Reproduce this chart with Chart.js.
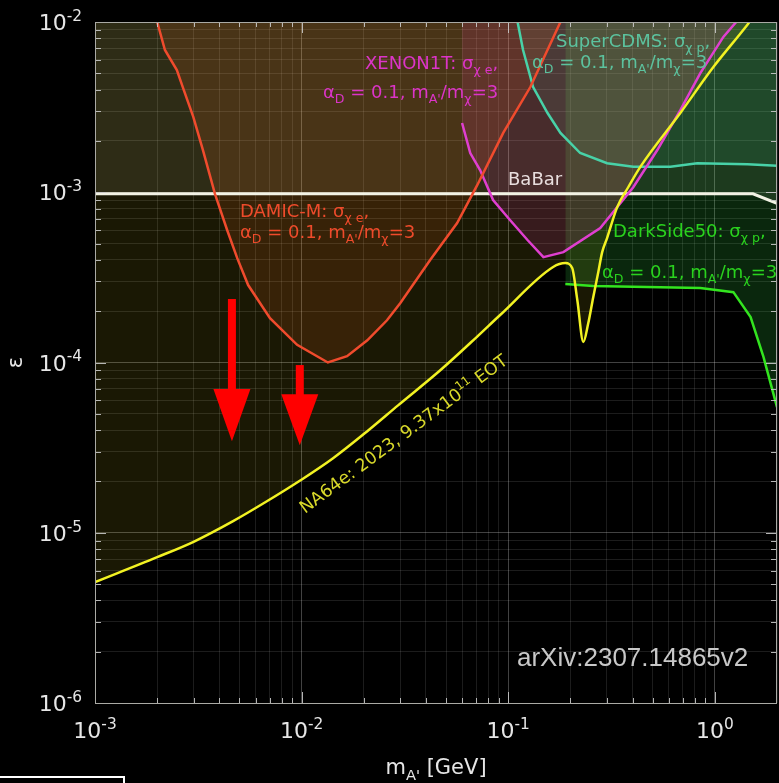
<!DOCTYPE html>
<html><head><meta charset="utf-8">
<script src="https://cdn.jsdelivr.net/npm/chart.js@4"></script>
<style>html,body{margin:0;padding:0;background:#000;}canvas{display:block;}</style>
</head><body>
<canvas id="c" width="779" height="783"></canvas>
<script>
// ---------- data ----------
const xMajorTicks = [1e-3, 1e-2, 1e-1, 1];
const xMajorExp = ['-3', '-2', '-1', '0'];
const yMajorTicks = [1e-6, 1e-5, 1e-4, 1e-3, 1e-2];
const yMajorExp = ['-6', '-5', '-4', '-3', '-2'];
const xRange = [1e-3, 2];
const yRange = [1e-6, 1e-2];

const na64X = [0.001, 0.0020, 0.0030, 0.00466, 0.00673, 0.0098, 0.0142, 0.0208, 0.0293, 0.0469, 0.0708, 0.0914, 0.165, 0.189, 0.204, 0.216, 0.231, 0.244, 0.258, 0.273, 0.285, 0.301, 0.337, 0.381, 0.436, 0.681, 0.984, 1.41, 1.47];
const na64Y = [5.13e-6, 7.19e-6, 8.85e-6, 1.17e-5, 1.52e-5, 2.02e-5, 2.74e-5, 3.95e-5, 5.6e-5, 9.0e-5, 1.42e-4, 1.9e-4, 3.64e-4, 3.84e-4, 3.59e-4, 2.33e-4, 1.32e-4, 1.70e-4, 2.42e-4, 3.40e-4, 4.45e-4, 5.38e-4, 8.18e-4, 1.07e-3, 1.41e-3, 2.92e-3, 5.44e-3, 9.35e-3, 1.0e-2];

const damicX = [0.0020, 0.00218, 0.00249, 0.00267, 0.00299, 0.00333, 0.00381, 0.00436, 0.00488, 0.00551, 0.00703, 0.00951, 0.0134, 0.0166, 0.0208, 0.0259, 0.0300, 0.0419, 0.0566, 0.0708, 0.0946, 0.128, 0.179];
const damicY = [1e-2, 6.85e-3, 5.22e-3, 4.09e-3, 2.77e-3, 1.77e-3, 9.76e-4, 6.0e-4, 4.10e-4, 2.85e-4, 1.82e-4, 1.27e-4, 1.0e-4, 1.09e-4, 1.35e-4, 1.77e-4, 2.23e-4, 4.0e-4, 6.59e-4, 1.10e-3, 2.23e-3, 4.15e-3, 1e-2];

const xenonX = [0.0598, 0.0655, 0.0731, 0.0845, 0.102, 0.124, 0.148, 0.185, 0.279, 0.403, 0.527, 0.681, 0.851, 1.10, 1.27];
const xenonY = [2.55e-3, 1.70e-3, 1.35e-3, 9.0e-4, 6.87e-4, 5.24e-4, 4.16e-4, 4.45e-4, 6.16e-4, 1.07e-3, 1.77e-3, 3.04e-3, 5.01e-3, 8.17e-3, 1e-2];

const cdmsX = [0.111, 0.118, 0.132, 0.155, 0.179, 0.223, 0.301, 0.403, 0.610, 0.822, 1.44, 2.0];
const cdmsY = [1e-2, 6.85e-3, 4.15e-3, 2.92e-3, 2.23e-3, 1.70e-3, 1.48e-3, 1.41e-3, 1.41e-3, 1.48e-3, 1.46e-3, 1.43e-3];

const darksideX = [0.189, 0.258, 0.544, 0.851, 1.23, 1.49, 1.72, 2.0];
const darksideY = [2.89e-4, 2.81e-4, 2.77e-4, 2.74e-4, 2.59e-4, 1.85e-4, 1.08e-4, 5.47e-5];

const babarX = [0.001, 1.53, 2.0];
const babarY = [9.8e-4, 9.8e-4, 8.6e-4];

const arrowX = [4.6e-3, 9.8e-3];
const arrowTop = [2.36e-4, 9.66e-5];
const arrowHeadBase = [6.98e-5, 6.5e-5];
const arrowTip = [3.45e-5, 3.27e-5];

// ---------- helpers ----------
function pts(xs, ys) { return xs.map((x, i) => ({ x: x, y: ys[i] })); }
function isMajor(v) { const l = Math.log10(v); return Math.abs(l - Math.round(l)) < 1e-6; }
function tickList(lo, hi, extra) {
  const out = [];
  for (let d = lo; d < hi; d++) for (let m = 1; m <= 9; m++) out.push(m * Math.pow(10, d));
  return out.concat(extra);
}
const xTickValues = tickList(-3, 0, [1, 2]);
const yTickValues = tickList(-6, -2, [1e-2]);
const FAM = '"DejaVu Sans", sans-serif';

function rich(ctx, x, y, segs, size, color, align) {
  ctx.save();
  ctx.fillStyle = color;
  ctx.textBaseline = 'alphabetic';
  ctx.textAlign = 'left';
  const parts = segs.map(s => {
    const t = s[0], m = s[1] || '';
    const sz = m ? size * 0.7 : size;
    ctx.font = sz + 'px ' + FAM;
    return { t: t, m: m, sz: sz, w: ctx.measureText(t).width };
  });
  const total = parts.reduce((a, p) => a + p.w, 0);
  let cx = align === 'right' ? x - total : align === 'center' ? x - total / 2 : x;
  for (const p of parts) {
    ctx.font = p.sz + 'px ' + FAM;
    const dy = p.m === 'sub' ? size * 0.28 : p.m === 'sup' ? -size * 0.42 : 0;
    ctx.fillText(p.t, cx, y + dy);
    cx += p.w;
  }
  ctx.restore();
  return total;
}
const coupling = [['α'], ['D', 'sub'], [' = 0.1, m'], ["A'", 'sub'], ['/m'], ['χ', 'sub'], ['=3']];

const overlay = {
  id: 'overlay',
  beforeDraw(chart) {
    const ctx = chart.ctx;
    ctx.save(); ctx.fillStyle = '#000'; ctx.fillRect(0, 0, chart.width, chart.height); ctx.restore();
  },
  afterDatasetsDraw(chart) {
    const ctx = chart.ctx, a = chart.chartArea;
    const xs = chart.scales.x, ys = chart.scales.y;
    // arrows
    ctx.save();
    ctx.fillStyle = '#ff0000';
    arrowX.forEach((xv, i) => {
      const px = xs.getPixelForValue(xv);
      const top = ys.getPixelForValue(arrowTop[i]);
      const hb = ys.getPixelForValue(arrowHeadBase[i]);
      const tip = ys.getPixelForValue(arrowTip[i]);
      ctx.fillRect(px - 4, top, 8, hb - top + 1);
      ctx.beginPath();
      ctx.moveTo(px - 18.5, hb); ctx.lineTo(px + 18.5, hb); ctx.lineTo(px, tip); ctx.closePath();
      ctx.fill();
    });
    ctx.restore();

    // labels
    rich(ctx, 365, 69, [['XENON1T: σ'], ['χ e', 'sub'], [',']], 18, '#dc34c8');
    rich(ctx, 323, 98, coupling, 18, '#dc34c8');
    rich(ctx, 556, 47, [['SuperCDMS: σ'], ['χ p', 'sub'], [',']], 18, '#5cc29e');
    rich(ctx, 532, 68, coupling, 18, '#5cc29e');
    rich(ctx, 508, 185, [['BaBar']], 18, '#e8dede');
    rich(ctx, 240, 217, [['DAMIC-M: σ'], ['χ e', 'sub'], [',']], 18, '#ee4b2b');
    rich(ctx, 240, 238, coupling, 18, '#ee4b2b');
    rich(ctx, 613, 237, [['DarkSide50: σ'], ['χ p', 'sub'], [',']], 18, '#2ad21e');
    rich(ctx, 602, 278, coupling, 18, '#2ad21e');

    ctx.save();
    ctx.translate(305, 514);
    ctx.rotate(-36.5 * Math.PI / 180);
    rich(ctx, 0, 0, [['NA64e: 2023, 9.37x10'], ['11', 'sup'], [' EOT']], 17.5, '#d8d82a');
    ctx.restore();

    ctx.save();
    ctx.fillStyle = '#c8c8c8';
    ctx.font = '26px "Liberation Sans", Arial, sans-serif';
    ctx.textAlign = 'left'; ctx.textBaseline = 'alphabetic';
    ctx.fillText('arXiv:2307.14865v2', 517, 666);
    ctx.restore();

    // border and inward ticks
    ctx.save();
    ctx.strokeStyle = 'rgba(200,200,200,0.9)';
    ctx.lineWidth = 1;
    ctx.beginPath();
    xTickValues.forEach(v => {
      if (v <= xRange[0] || v >= xRange[1]) return;
      const p = Math.round(xs.getPixelForValue(v)) + 0.5, L = isMajor(v) ? 11 : 5;
      ctx.moveTo(p, a.bottom); ctx.lineTo(p, a.bottom - L);
      ctx.moveTo(p, a.top); ctx.lineTo(p, a.top + L);
    });
    yTickValues.forEach(v => {
      if (v <= yRange[0] || v >= yRange[1]) return;
      const p = Math.round(ys.getPixelForValue(v)) + 0.5, L = isMajor(v) ? 11 : 6;
      ctx.moveTo(a.left, p); ctx.lineTo(a.left + L, p);
      ctx.moveTo(a.right, p); ctx.lineTo(a.right - L, p);
    });
    ctx.stroke();
    ctx.strokeStyle = 'rgba(170,170,165,1)';
    ctx.strokeRect(a.left + 0.5, a.top + 0.5, a.right - a.left - 1, a.bottom - a.top);
    ctx.restore();

    // tick labels
    xMajorTicks.forEach((v, i) => {
      const p = xs.getPixelForValue(v);
      rich(ctx, p, a.bottom + 35, [['10'], [xMajorExp[i], 'sup']], 22, '#e6e6e6', 'center');
    });
    yMajorTicks.forEach((v, i) => {
      const p = ys.getPixelForValue(v);
      rich(ctx, 82, p + 8, [['10'], [yMajorExp[i], 'sup']], 22, '#e6e6e6', 'right');
    });
    // axis titles
    rich(ctx, (a.left + a.right) / 2, 774, [['m'], ["A'", 'sub'], [' [GeV]']], 21, '#e6e6e6', 'center');
    ctx.save();
    ctx.translate(22, (a.top + a.bottom) / 2);
    ctx.rotate(-Math.PI / 2);
    rich(ctx, 0, 0, [['ε']], 21, '#e6e6e6', 'center');
    ctx.restore();

    // small framed box at lower left
    ctx.save();
    ctx.strokeStyle = '#ffffff'; ctx.lineWidth = 2;
    ctx.strokeRect(-5, 777, 129, 20);
    ctx.restore();
  }
};

const gridColor = c => (c.tick && isMajor(c.tick.value)) ? 'rgba(255,255,255,0.26)' : 'rgba(255,255,255,0.11)';

new Chart(document.getElementById('c'), {
  type: 'line',
  data: {
    datasets: [
      { label: 'BaBar', data: pts(babarX, babarY), borderColor: '#f2f2e4', borderWidth: 3, fill: 'end', backgroundColor: 'rgba(255,255,235,0.09)', order: 6 },
      { label: 'SuperCDMS', data: pts(cdmsX, cdmsY), borderColor: '#48d2a8', borderWidth: 2.5, fill: 'end', backgroundColor: 'rgba(70,210,170,0.10)', order: 5 },
      { label: 'DarkSide50', data: pts(darksideX, darksideY), borderColor: '#33e41f', borderWidth: 2.5, fill: 'end', backgroundColor: 'rgba(60,230,80,0.17)', order: 4 },
      { label: 'XENON1T', data: pts(xenonX, xenonY), borderColor: '#e03fd0', borderWidth: 2.5, fill: 'end', backgroundColor: 'rgba(220,30,190,0.15)', order: 3 },
      { label: 'DAMIC-M', data: pts(damicX, damicY), borderColor: '#f04b2d', borderWidth: 2.5, fill: 'end', backgroundColor: 'rgba(255,90,30,0.13)', order: 2 },
      { label: 'NA64e', data: pts(na64X, na64Y), borderColor: '#f2f222', borderWidth: 2.5, fill: 'end', backgroundColor: 'rgba(255,235,40,0.10)', order: 1, cubicInterpolationMode: 'monotone' }
    ]
  },
  options: {
    responsive: false,
    animation: false,
    devicePixelRatio: 1,
    layout: { padding: { left: 95, right: 2, top: 22, bottom: 80 } },
    elements: { point: { radius: 0, hoverRadius: 0 }, line: { tension: 0 } },
    plugins: { legend: { display: false }, tooltip: { enabled: false }, filler: { drawTime: 'beforeDatasetsDraw' } },
    scales: {
      x: {
        type: 'logarithmic', min: xRange[0], max: xRange[1],
        afterBuildTicks: s => { s.ticks = xTickValues.map(v => ({ value: v, major: isMajor(v) })); },
        afterFit: s => { s.height = 0; },
        ticks: { display: false },
        grid: { color: gridColor, drawTicks: false, lineWidth: 1 },
        border: { display: false }
      },
      y: {
        type: 'logarithmic', min: yRange[0], max: yRange[1],
        afterBuildTicks: s => { s.ticks = yTickValues.map(v => ({ value: v, major: isMajor(v) })); },
        afterFit: s => { s.width = 0; },
        ticks: { display: false },
        grid: { color: gridColor, drawTicks: false, lineWidth: 1 },
        border: { display: false }
      }
    }
  },
  plugins: [overlay]
});
</script>
</body></html>
